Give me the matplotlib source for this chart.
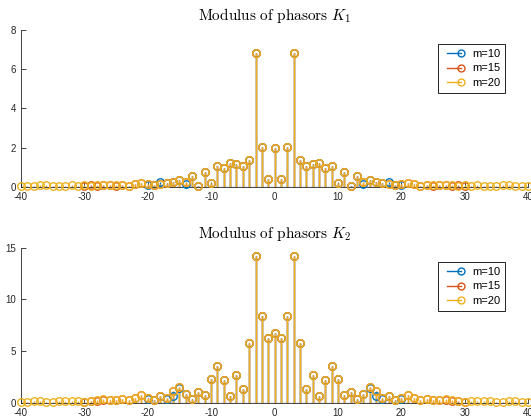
import matplotlib
matplotlib.use("Agg")
import matplotlib.pyplot as plt
import numpy as np
from matplotlib.lines import Line2D
from matplotlib.legend_handler import HandlerLine2D

plt.rcParams["font.family"] = ["Liberation Sans", "DejaVu Sans"]
plt.rcParams["mathtext.fontset"] = "cm"
plt.rcParams["axes.unicode_minus"] = False

# half spectra, n = 0..2m (the data is symmetric about n = 0)
k1_m20 = [2.0, 0.37, 2.04, 6.84, 1.36, 1.05, 1.15, 1.2, 0.95, 1.08,
          0.18, 0.77, 0.05, 0.54, 0.23, 0.35, 0.25, 0.18, 0.12, 0.1,
          0.12, 0.2, 0.14, 0.06, 0.08, 0.07, 0.08, 0.09, 0.08, 0.06,
          0.07, 0.05, 0.08, 0.06, 0.05, 0.06, 0.07, 0.08, 0.06, 0.05, 0.05]
k1_m15 = [2.0, 0.37, 2.04, 6.84, 1.36, 1.05, 1.15, 1.2, 0.95, 1.08,
          0.18, 0.77, 0.05, 0.54, 0.23, 0.35, 0.25, 0.18, 0.13, 0.1,
          0.12, 0.2, 0.14, 0.05, 0.07, 0.06, 0.09, 0.07, 0.06, 0.08, 0.05]
k1_m10 = [2.0, 0.37, 2.04, 6.84, 1.36, 1.05, 1.15, 1.2, 0.95, 1.08,
          0.18, 0.77, 0.05, 0.54, 0.12, 0.35, 0.25, 0.17, 0.22, 0.1, 0.1]

k2_m20 = [6.71, 6.26, 8.42, 14.2, 5.8, 1.34, 2.66, 0.65, 2.19, 3.55,
          2.32, 0.77, 1.0, 0.32, 0.8, 1.52, 1.1, 0.42, 0.61, 0.29,
          0.48, 0.74, 0.45, 0.29, 0.35, 0.23, 0.26, 0.32, 0.23, 0.19,
          0.1, 0.13, 0.19, 0.16, 0.13, 0.03, 0.03, 0.13, 0.13, 0.03, 0.03]
k2_m15 = [6.71, 6.26, 8.42, 14.2, 5.8, 1.34, 2.66, 0.65, 2.19, 3.55,
          2.32, 0.77, 1.0, 0.32, 0.8, 1.52, 1.1, 0.42, 0.61, 0.29,
          0.48, 0.72, 0.44, 0.3, 0.33, 0.24, 0.25, 0.3, 0.21, 0.17, 0.08]
k2_m10 = [6.71, 6.26, 8.42, 14.2, 5.8, 1.34, 2.66, 0.65, 2.19, 3.55,
          2.32, 0.77, 1.0, 0.32, 0.8, 1.42, 0.65, 0.35, 0.65, 0.22, 0.4]

labels = ["m=10", "m=15", "m=20"]
colors = ["#0072BD", "#D95319", "#EDB120"]
titles = [r"$\mathrm{Modulus\ of\ phasors}\ K_1$", r"$\mathrm{Modulus\ of\ phasors}\ K_2$"]


def full(half):
    half = np.asarray(half)
    return np.concatenate([half[:0:-1], half])


class EndMarker(HandlerLine2D):
    # MATLAB style legend: line with the marker only at its right end
    def create_artists(self, *args, **kwargs):
        arts = super().create_artists(*args, **kwargs)
        for a in arts:
            a.set_markevery([1])
        return arts


fig = plt.figure(figsize=(5.31, 4.2), dpi=100)
ax1 = fig.add_axes([0.0395, 0.5555, 0.955, 0.373])
ax2 = fig.add_axes([0.0395, 0.0412, 0.955, 0.369])

panels = [
    (ax1, [k1_m10, k1_m15, k1_m20], 8, [0, 2, 4, 6, 8], titles[0], 0.911),
    (ax2, [k2_m10, k2_m15, k2_m20], 15, [0, 5, 10, 15], titles[1], 0.908),
]

for ax, series, ymax, yticks, title, leg_y in panels:
    for half, c in zip(series, colors):
        y = full(half)
        m = (len(y) - 1) // 2
        n = np.arange(-m, m + 1)
        ax.vlines(n, 0, y, color=c, lw=1.0, zorder=2)
        ax.plot(n, y, "o", ms=5.4, mfc="none", mec=c, mew=1.0, clip_on=False, zorder=3)
    ax.axhline(0, color="k", lw=0.8, zorder=2.5)
    ax.set_xlim(-40, 40)
    ax.set_ylim(0, ymax)
    ax.set_xticks(np.arange(-40, 41, 10))
    ax.set_yticks(yticks)
    ax.tick_params(direction="in", labelsize=7, colors="#262626", length=3.5, width=0.6)
    for s in ["top", "right"]:
        ax.spines[s].set_visible(False)
    for s in ["left", "bottom"]:
        ax.spines[s].set_color("#262626")
        ax.spines[s].set_linewidth(0.6)
    ax.set_title(title, fontsize=11, pad=7)
    handles = [Line2D([], [], color=c, lw=1, marker="o", ms=5, mfc="none", mew=1.0)
               for c in colors]
    leg = ax.legend(handles, labels, loc="upper right", bbox_to_anchor=(0.955, leg_y),
                    fontsize=8, numpoints=2, fancybox=False, framealpha=1,
                    edgecolor="k", handlelength=1.9, handletextpad=0.7,
                    borderpad=0.45, labelspacing=0.4, borderaxespad=0,
                    handler_map={Line2D: EndMarker()})
    leg.get_frame().set_linewidth(0.6)

fig.savefig("out.png", dpi=100)
